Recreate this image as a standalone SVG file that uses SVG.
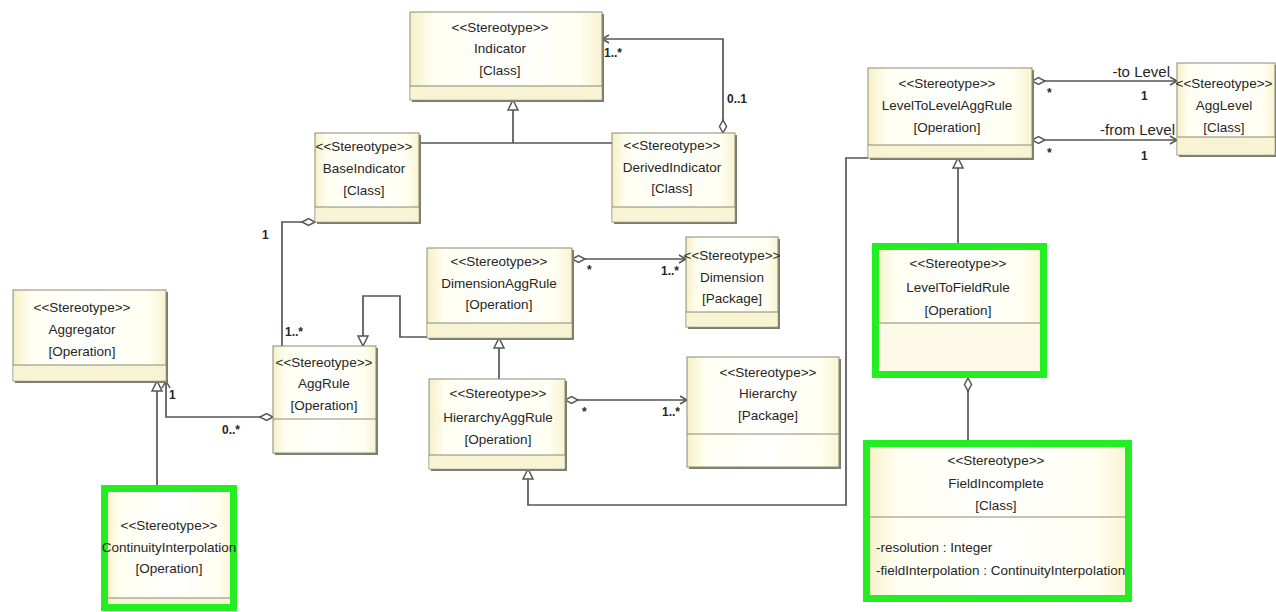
<svg xmlns="http://www.w3.org/2000/svg" width="1276" height="612" viewBox="0 0 1276 612">
<style>
.shadow{fill:#7c7c70}
.body{fill:url(#cream);stroke:#8a8a74;stroke-width:1}
.band{fill:#f8f3d2}
.band2{fill:#fcf9e6}
.sep{stroke:#8a8a74;stroke-width:1.2}
.green{fill:none;stroke:#22ee22;stroke-width:7}
.t{font-family:"Liberation Sans",Arial,sans-serif;font-size:13.5px;fill:#262626;text-anchor:middle}
.a{font-family:"Liberation Sans",Arial,sans-serif;font-size:13.5px;fill:#262626}
.lbl{font-family:"Liberation Sans",Arial,sans-serif;font-size:12px;font-weight:bold;fill:#262626}
.role{font-family:"Liberation Sans",Arial,sans-serif;font-size:15px;fill:#262626;text-anchor:end}
.c{fill:none;stroke:#555;stroke-width:1.7}
</style>
<defs>
<linearGradient id="cream" x1="0" y1="0" x2="1" y2="0">
<stop offset="0" stop-color="#f6f0c6"/>
<stop offset="0.12" stop-color="#fffff2"/>
<stop offset="0.5" stop-color="#ffffff"/>
<stop offset="0.88" stop-color="#fffff2"/>
<stop offset="1" stop-color="#f8f3d0"/>
</linearGradient>
<marker id="gen" markerUnits="userSpaceOnUse" markerWidth="14" markerHeight="14" viewBox="0 -7 12 14" refX="11" refY="0" orient="auto">
<path d="M1,-5 L11,0 L1,5 Z" fill="#fff" stroke="#555" stroke-width="1.5"/>
</marker>
<marker id="agg" markerUnits="userSpaceOnUse" markerWidth="16" markerHeight="10" viewBox="0 -5 16 10" refX="0.5" refY="0" orient="auto">
<path d="M0.5,0 L7,-3.5 L13.5,0 L7,3.5 Z" fill="#fff" stroke="#555" stroke-width="1.5"/>
</marker>
<marker id="nav" markerUnits="userSpaceOnUse" markerWidth="12" markerHeight="12" viewBox="0 -6 10 12" refX="9" refY="0" orient="auto">
<path d="M2,-4 L9,0 L2,4" fill="none" stroke="#555" stroke-width="1.5"/>
</marker>
</defs>
<rect width="1276" height="612" fill="#ffffff"/>

<g id="connectors">
<path class="c" d="M419,143 H612"/>
<path class="c" d="M513,143 V100" marker-end="url(#gen)"/>
<path class="c" d="M723,133 V39 H602" marker-start="url(#agg)" marker-end="url(#nav)"/>
<path class="c" d="M315,222 H282 V346" marker-start="url(#agg)"/>
<path class="c" d="M427,337 H400 V296 H363 V346" marker-end="url(#gen)"/>
<path class="c" d="M499,379 V338" marker-end="url(#gen)"/>
<path class="c" d="M572,259 H686" marker-start="url(#agg)" marker-end="url(#nav)"/>
<path class="c" d="M565,400 H687" marker-start="url(#agg)" marker-end="url(#nav)"/>
<path class="c" d="M273,417 H166 V381" marker-start="url(#agg)" marker-end="url(#nav)"/>
<path class="c" d="M157,485 V381" marker-end="url(#gen)"/>
<path class="c" d="M868,158 H846 V505 H528 V469" marker-end="url(#gen)"/>
<path class="c" d="M958,243 V158" marker-end="url(#gen)"/>
<path class="c" d="M968,378 V440" marker-start="url(#agg)"/>
<path class="c" d="M1032,81 H1177" marker-start="url(#agg)" marker-end="url(#nav)"/>
<path class="c" d="M1032,140 H1177" marker-start="url(#agg)" marker-end="url(#nav)"/>
<text class="lbl" x="604" y="57">1..*</text>
<text class="lbl" x="727" y="103">0..1</text>
<text class="lbl" x="262" y="239">1</text>
<text class="lbl" x="285" y="336">1..*</text>
<text class="lbl" x="169" y="399">1</text>
<text class="lbl" x="222" y="434">0..*</text>
<text class="lbl" x="587" y="274">*</text>
<text class="lbl" x="661" y="275">1..*</text>
<text class="lbl" x="582" y="416">*</text>
<text class="lbl" x="662" y="416">1..*</text>
<text class="role" x="1170" y="77">-to Level</text>
<text class="lbl" x="1141" y="100">1</text>
<text class="lbl" x="1047" y="97">*</text>
<text class="role" x="1175" y="135">-from Level</text>
<text class="lbl" x="1141" y="160">1</text>
<text class="lbl" x="1047" y="157">*</text>
</g>

<g id="Indicator">
<rect class="shadow" x="412" y="14" width="192" height="88"/>
<rect class="body" x="410" y="12" width="192" height="88"/>
<rect class="band" x="410.5" y="86" width="191" height="13.5"/>
<line class="sep" x1="410" y1="86" x2="602" y2="86"/>
<text class="t" x="500" y="32">&lt;&lt;Stereotype&gt;&gt;</text>
<text class="t" x="500" y="53">Indicator</text>
<text class="t" x="500" y="75">[Class]</text>
</g>

<g id="BaseIndicator">
<rect class="shadow" x="317" y="135" width="104" height="89"/>
<rect class="body" x="315" y="133" width="104" height="89"/>
<rect class="band" x="315.5" y="207" width="103" height="14.5"/>
<line class="sep" x1="315" y1="207" x2="419" y2="207"/>
<text class="t" x="364" y="151">&lt;&lt;Stereotype&gt;&gt;</text>
<text class="t" x="364" y="173">BaseIndicator</text>
<text class="t" x="364" y="195">[Class]</text>
</g>

<g id="DerivedIndicator">
<rect class="shadow" x="614" y="135" width="123" height="89"/>
<rect class="body" x="612" y="133" width="123" height="89"/>
<rect class="band" x="612.5" y="207" width="122" height="14.5"/>
<line class="sep" x1="612" y1="207" x2="735" y2="207"/>
<text class="t" x="672" y="150">&lt;&lt;Stereotype&gt;&gt;</text>
<text class="t" x="672" y="172">DerivedIndicator</text>
<text class="t" x="672" y="193">[Class]</text>
</g>

<g id="Aggregator">
<rect class="shadow" x="15" y="292" width="153" height="91"/>
<rect class="body" x="13" y="290" width="153" height="91"/>
<rect class="band" x="13.5" y="365" width="152" height="15.5"/>
<line class="sep" x1="13" y1="365" x2="166" y2="365"/>
<text class="t" x="82" y="312">&lt;&lt;Stereotype&gt;&gt;</text>
<text class="t" x="82" y="334">Aggregator</text>
<text class="t" x="82" y="356">[Operation]</text>
</g>

<g id="AggRule">
<rect class="shadow" x="275" y="348" width="103" height="107"/>
<rect class="body" x="273" y="346" width="103" height="107"/>
<line class="sep" x1="273" y1="419" x2="376" y2="419"/>
<text class="t" x="324" y="367">&lt;&lt;Stereotype&gt;&gt;</text>
<text class="t" x="324" y="388">AggRule</text>
<text class="t" x="324" y="410">[Operation]</text>
</g>

<g id="DimensionAggRule">
<rect class="shadow" x="429" y="250" width="145" height="90"/>
<rect class="body" x="427" y="248" width="145" height="90"/>
<rect class="band" x="427.5" y="323" width="144" height="14.5"/>
<line class="sep" x1="427" y1="323" x2="572" y2="323"/>
<text class="t" x="499" y="266">&lt;&lt;Stereotype&gt;&gt;</text>
<text class="t" x="499" y="288">DimensionAggRule</text>
<text class="t" x="499" y="309">[Operation]</text>
</g>

<g id="Dimension">
<rect class="shadow" x="688" y="239" width="92" height="90"/>
<rect class="body" x="686" y="237" width="92" height="90"/>
<rect class="band" x="686.5" y="312" width="91" height="14.5"/>
<line class="sep" x1="686" y1="312" x2="778" y2="312"/>
<text class="t" x="732" y="260">&lt;&lt;Stereotype&gt;&gt;</text>
<text class="t" x="732" y="282">Dimension</text>
<text class="t" x="732" y="303">[Package]</text>
</g>

<g id="HierarchyAggRule">
<rect class="shadow" x="431" y="381" width="136" height="90"/>
<rect class="body" x="429" y="379" width="136" height="90"/>
<rect class="band" x="429.5" y="455" width="135" height="13.5"/>
<line class="sep" x1="429" y1="455" x2="565" y2="455"/>
<text class="t" x="498" y="398">&lt;&lt;Stereotype&gt;&gt;</text>
<text class="t" x="498" y="422">HierarchyAggRule</text>
<text class="t" x="498" y="444">[Operation]</text>
</g>

<g id="Hierarchy">
<rect class="shadow" x="689" y="359" width="152" height="110"/>
<rect class="body" x="687" y="357" width="152" height="110"/>
<line class="sep" x1="687" y1="434" x2="839" y2="434"/>
<text class="t" x="768" y="377">&lt;&lt;Stereotype&gt;&gt;</text>
<text class="t" x="768" y="398">Hierarchy</text>
<text class="t" x="768" y="420">[Package]</text>
</g>

<g id="LevelToLevelAggRule">
<rect class="shadow" x="870" y="70" width="164" height="90"/>
<rect class="body" x="868" y="68" width="164" height="90"/>
<rect class="band" x="868.5" y="145" width="163" height="12.5"/>
<line class="sep" x1="868" y1="145" x2="1032" y2="145"/>
<text class="t" x="947" y="88">&lt;&lt;Stereotype&gt;&gt;</text>
<text class="t" x="947" y="110">LevelToLevelAggRule</text>
<text class="t" x="947" y="132">[Operation]</text>
</g>

<g id="AggLevel">
<rect class="shadow" x="1179" y="65" width="98" height="92"/>
<rect class="body" x="1177" y="63" width="98" height="92"/>
<rect class="band" x="1177.5" y="137" width="97" height="17.5"/>
<line class="sep" x1="1177" y1="137" x2="1275" y2="137"/>
<text class="t" x="1224" y="88">&lt;&lt;Stereotype&gt;&gt;</text>
<text class="t" x="1224" y="110">AggLevel</text>
<text class="t" x="1224" y="132">[Class]</text>
</g>

<g id="LevelToFieldRule">
<rect class="body" x="875.5" y="246.5" width="168" height="128" stroke="none"/>
<rect class="band2" x="876" y="323" width="167" height="51"/>
<line class="sep" x1="876" y1="323" x2="1043" y2="323"/>
<rect class="green" x="875.5" y="246.5" width="168" height="128"/>
<text class="t" x="958" y="268">&lt;&lt;Stereotype&gt;&gt;</text>
<text class="t" x="958" y="292">LevelToFieldRule</text>
<text class="t" x="958" y="315">[Operation]</text>
</g>

<g id="FieldIncomplete">
<rect class="body" x="866.5" y="443.5" width="262" height="155" stroke="none"/>
<line class="sep" x1="867" y1="517" x2="1128" y2="517"/>
<rect class="green" x="866.5" y="443.5" width="262" height="155"/>
<text class="t" x="996" y="465">&lt;&lt;Stereotype&gt;&gt;</text>
<text class="t" x="996" y="488">FieldIncomplete</text>
<text class="t" x="996" y="510">[Class]</text>
<text class="a" x="876" y="552">-resolution : Integer</text>
<text class="a" x="876" y="575">-fieldInterpolation : ContinuityInterpolation</text>
</g>

<g id="ContinuityInterpolation">
<rect class="body" x="104.5" y="488.5" width="129" height="119" stroke="none"/>
<rect class="band" x="105" y="598" width="128" height="9"/>
<line class="sep" x1="105" y1="598" x2="233" y2="598"/>
<rect class="green" x="104.5" y="488.5" width="129" height="119"/>
<text class="t" x="169" y="530">&lt;&lt;Stereotype&gt;&gt;</text>
<text class="t" x="169" y="552">ContinuityInterpolation</text>
<text class="t" x="169" y="573">[Operation]</text>
</g>
</svg>
